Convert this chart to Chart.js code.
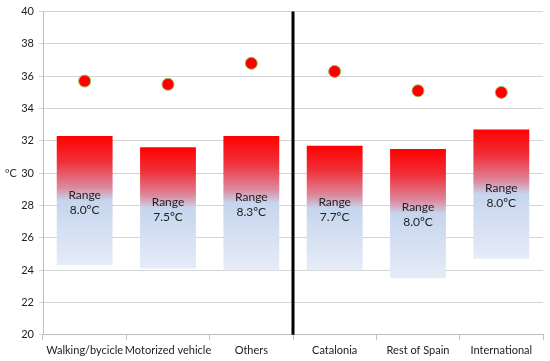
<!DOCTYPE html>
<html>
<head>
<meta charset="utf-8">
<script src="https://cdn.jsdelivr.net/npm/chart.js@4"></script>
<style>
  html, body { margin: 0; padding: 0; background: #fff; }
  #wrap { width: 550px; height: 361px; position: relative; }
</style>
</head>
<body>
<div id="wrap"><canvas id="tempChart"></canvas></div>
<script>
const categories = ["Walking/bycicle", "Motorized vehicle", "Others", "Catalonia", "Rest of Spain", "International"];
const rangeLow = [24.3, 24.1, 24.0, 24.0, 23.5, 24.7];
const rangeHigh = [32.3, 31.6, 32.3, 31.7, 31.5, 32.7];
const rangeLabels = ["8.0ºC", "7.5ºC", "8.3ºC", "7.7ºC", "8.0ºC", "8.0ºC"];
const peakValues = [35.7, 35.5, 36.8, 36.3, 35.1, 35.0];
const yTicks = [20, 22, 24, 26, 28, 30, 32, 34, 36, 38, 40];

const FONT = "Lato, 'Open Sans', sans-serif";

// red at the top fading into pale blue towards the bottom of each bar
function barGradient(context) {
  const chart = context.chart;
  const y = chart.scales.y;
  const raw = context.raw;
  if (!y || !Array.isArray(raw)) return "#f00";
  const top = y.getPixelForValue(raw[1]), bottom = y.getPixelForValue(raw[0]);
  if (!isFinite(top) || !isFinite(bottom) || bottom - top < 1) return "#f00";
  const g = chart.ctx.createLinearGradient(0, top, 0, bottom);
  g.addColorStop(0, "#ff0000");
  g.addColorStop(0.2, "#f0303a");
  g.addColorStop(0.4, "#dc8a9e");
  g.addColorStop(0.5, "#c6d5ee");
  g.addColorStop(1, "#e6ecf7");
  return g;
}

const extras = {
  id: "extras",
  afterDatasetsDraw(chart) {
    const ctx = chart.ctx;
    const x = chart.scales.x, area = chart.chartArea;
    const meta = chart.getDatasetMeta(0);
    ctx.save();
    ctx.fillStyle = "#222";
    ctx.font = "12px " + FONT;
    ctx.textAlign = "center";
    ctx.textBaseline = "middle";
    meta.data.forEach((el, i) => {
      const mid = (el.y + el.base) / 2;
      ctx.fillText("Range", el.x, mid - 6);
      ctx.fillText(rangeLabels[i], el.x, mid + 9);
    });
    // divider between the two groups
    const xm = (x.getPixelForValue(2) + x.getPixelForValue(3)) / 2;
    ctx.strokeStyle = "#000";
    ctx.lineWidth = 3;
    ctx.beginPath();
    ctx.moveTo(xm, area.top);
    ctx.lineTo(xm, area.bottom);
    ctx.stroke();
    ctx.font = "11px " + FONT;
    ctx.fillStyle = "#333";
    ctx.fillText("ºC", 11, (area.top + area.bottom) / 2);
    ctx.restore();
  }
};

new Chart(document.getElementById("tempChart"), {
  data: {
    labels: categories,
    datasets: [
      {
        type: "bar",
        data: rangeLow.map((v, i) => [v, rangeHigh[i]]),
        backgroundColor: barGradient,
        borderWidth: 0,
        barPercentage: 0.67,
        categoryPercentage: 1,
        order: 2
      },
      {
        type: "line",
        data: peakValues,
        showLine: false,
        pointRadius: 6,
        pointBackgroundColor: "#ff0000",
        pointBorderColor: "#9bbb59",
        pointBorderWidth: 1,
        order: 1
      }
    ]
  },
  options: {
    responsive: true,
    maintainAspectRatio: false,
    animation: false,
    layout: { padding: { top: 7, right: 5, left: 0, bottom: 0 } },
    plugins: { legend: { display: false }, tooltip: { enabled: false } },
    scales: {
      x: {
        offset: true,
        grid: { offset: true, drawOnChartArea: false, tickLength: 5, color: "#bfbfbf" },
        border: { color: "#bfbfbf" },
        ticks: { color: "#222", font: { size: 11, family: FONT }, maxRotation: 0, autoSkip: false, padding: 4 }
      },
      y: {
        min: 20,
        max: 40,
        afterBuildTicks(scale) { scale.ticks = yTicks.map(v => ({ value: v })); },
        afterFit(scale) { scale.width = 43; },
        grid: { color: "#d4d4d4", tickLength: 4 },
        border: { color: "#bfbfbf" },
        ticks: { color: "#222", font: { size: 11, family: FONT }, padding: 5 }
      }
    }
  },
  plugins: [extras]
});
</script>
</body>
</html>
